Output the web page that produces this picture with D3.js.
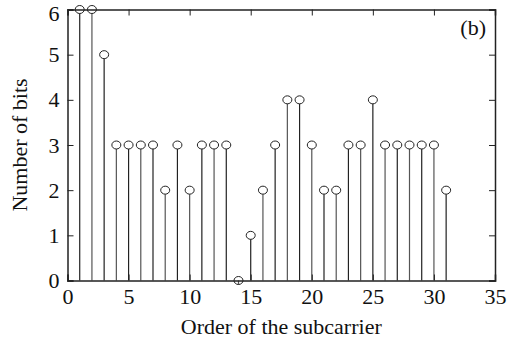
<!DOCTYPE html>
<html>
<head>
<meta charset="utf-8">
<script src="https://cdn.jsdelivr.net/npm/d3@7"></script>
<style>
  body { margin: 0; background: #fff; }
  svg text { font-family: "Liberation Serif", "DejaVu Serif", serif; fill: #111; }
</style>
</head>
<body>
<div id="box"></div>
<script>
// subcarrier index and number of bits
var subcarriers = d3.range(1, 32);
var bits = [6, 6, 5, 3, 3, 3, 3, 2, 3, 2, 3, 3, 3, 0, 1, 2, 3, 4, 4, 3, 2, 2, 3, 3, 4, 3, 3, 3, 3, 3, 2];
var xTicks = [0, 5, 10, 15, 20, 25, 30, 35];
var yTicks = [0, 1, 2, 3, 4, 5, 6];

var width = 515, height = 340;
var margin = {left: 67.5, right: 20, top: 9.5, bottom: 59.5};

var svg = d3.select("#box").append("svg")
  .attr("width", width).attr("height", height);

var x = d3.scaleLinear().domain([0, 35]).range([margin.left, width - margin.right]);
var y = d3.scaleLinear().domain([0, 6]).range([height - margin.bottom, margin.top]);

var data = subcarriers.map(function(d, i){ return {k: d, v: bits[i]}; });

var g = svg.append("g");

// stems
g.selectAll(".stem").data(data).enter().append("line")
  .attr("class", "stem")
  .attr("x1", function(d){ return x(d.k); })
  .attr("x2", function(d){ return x(d.k); })
  .attr("y1", y(0))
  .attr("y2", function(d){ return y(d.v) + 4; })
  .attr("stroke", function(d, i){ return i % 2 ? "#555" : "#222"; })
  .attr("stroke-width", 1.2);

// markers
g.selectAll(".mark").data(data).enter().append("ellipse")
  .attr("class", "mark")
  .attr("cx", function(d){ return x(d.k); })
  .attr("cy", function(d){ return y(d.v); })
  .attr("rx", 4.5).attr("ry", 4)
  .attr("fill", "none")
  .attr("stroke", "#222")
  .attr("stroke-width", 1);

// axes: ticks inward, mirrored on top and right
var axB = svg.append("g").attr("transform", "translate(0," + y(0) + ")")
  .call(d3.axisBottom(x).tickValues(xTicks).tickSize(-6).tickPadding(8));
var axT = svg.append("g").attr("transform", "translate(0," + y(6) + ")")
  .call(d3.axisTop(x).tickValues(xTicks).tickSize(-6).tickFormat(""));
var axL = svg.append("g").attr("transform", "translate(" + x(0) + ",0)")
  .call(d3.axisLeft(y).tickValues(yTicks).tickSize(-6).tickPadding(8).tickFormat(d3.format("d")));
var axR = svg.append("g").attr("transform", "translate(" + x(35) + ",0)")
  .call(d3.axisRight(y).tickValues(yTicks).tickSize(-6).tickFormat(""));

[axB, axT, axL, axR].forEach(function(a){
  a.select(".domain").attr("stroke", "#222").attr("stroke-width", 1.5);
  a.selectAll(".tick line").attr("stroke", "#222");
  a.selectAll("text").style("font-family", "Liberation Serif, serif").style("font-size", "22px").attr("fill", "#111");
});
// top label sits a little lower so it is not cut by the edge
axL.selectAll(".tick text").filter(function(d){ return d === 6; }).attr("dy", "0.5em");

svg.append("text")
  .attr("x", (x(0) + x(35)) / 2).attr("y", 334)
  .attr("text-anchor", "middle")
  .style("font-size", "22px")
  .text("Order of the subcarrier");

svg.append("text")
  .attr("transform", "translate(27," + ((y(0) + y(6)) / 2) + ") rotate(-90)")
  .attr("text-anchor", "middle")
  .style("font-size", "22px")
  .text("Number of bits");

svg.append("text")
  .attr("x", 486).attr("y", 35)
  .attr("text-anchor", "end")
  .style("font-size", "22px")
  .text("(b)");
</script>
</body>
</html>
